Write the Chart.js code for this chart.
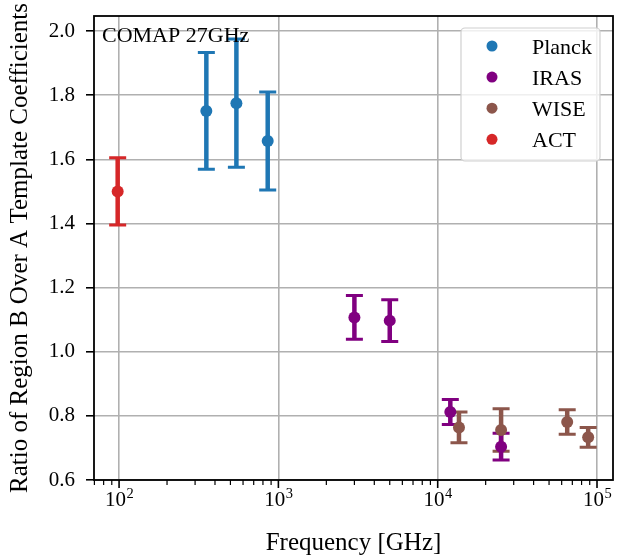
<!DOCTYPE html>
<html><head><meta charset="utf-8">
<style>html,body{margin:0;padding:0;background:#fff;} #c{display:block;}</style>
<script src="https://cdn.jsdelivr.net/npm/chart.js@4.4.1/dist/chart.umd.min.js"></script>
</head><body>
<canvas id="c" width="633" height="560"></canvas>
<script>
// ---- data ----
const planckFreq = [353, 545, 857];
const planckRatio = [1.751, 1.775, 1.657];
const planckErr = [0.182, 0.200, 0.153];

const irasFreq = [3000, 5000, 12000, 25000];
const irasRatio = [1.107, 1.097, 0.812, 0.704];
const irasErr = [0.068, 0.065, 0.039, 0.042];

const wiseFreq = [13600, 25000, 65000, 88000];
const wiseRatio = [0.764, 0.756, 0.781, 0.733];
const wiseErr = [0.048, 0.066, 0.038, 0.031];

const actFreq = [98];
const actRatio = [1.50];
const actErr = [0.105];

const seriesNames = ['Planck', 'IRAS', 'WISE', 'ACT'];
const seriesColors = ['#1f77b4', '#800080', '#8c564b', '#d62728'];

const yTicks = [0.6, 0.8, 1.0, 1.2, 1.4, 1.6, 1.8, 2.0];
const xMajorTicks = [100, 1000, 10000, 100000];
const xMinorTicks = [70, 80, 90, 200, 300, 400, 500, 600, 700, 800, 900,
  2000, 3000, 4000, 5000, 6000, 7000, 8000, 9000,
  20000, 30000, 40000, 50000, 60000, 70000, 80000, 90000];

const annotationText = 'COMAP 27GHz';
const xTitle = 'Frequency [GHz]';
const yTitle = 'Ratio of Region B Over A Template Coefficients';

// ---- build ----
const SERIF = '"Liberation Serif", "Times New Roman", serif';
function pts(fx, fy, fe) { return fx.map((v, i) => ({x: v, y: fy[i], err: fe[i]})); }
const allSeries = [
  pts(planckFreq, planckRatio, planckErr),
  pts(irasFreq, irasRatio, irasErr),
  pts(wiseFreq, wiseRatio, wiseErr),
  pts(actFreq, actRatio, actErr)
];

const errorBars = {
  id: 'errorBars',
  beforeDatasetsDraw(chart) {
    const {ctx, scales: {x, y}} = chart;
    ctx.save();
    for (let i = chart.data.datasets.length - 1; i >= 0; i--) {
      const ds = chart.data.datasets[i];
      ctx.strokeStyle = ds.backgroundColor;
      ds.data.forEach(p => {
        const px = x.getPixelForValue(p.x);
        const y1 = y.getPixelForValue(p.y + p.err);
        const y2 = y.getPixelForValue(p.y - p.err);
        ctx.lineWidth = 4.5;
        ctx.beginPath(); ctx.moveTo(px, y1); ctx.lineTo(px, y2); ctx.stroke();
        ctx.lineWidth = 3;
        ctx.beginPath();
        ctx.moveTo(px - 8.5, y1); ctx.lineTo(px + 8.5, y1);
        ctx.moveTo(px - 8.5, y2); ctx.lineTo(px + 8.5, y2);
        ctx.stroke();
      });
    }
    ctx.restore();
  }
};

const decorations = {
  id: 'decorations',
  afterDraw(chart) {
    const {ctx, chartArea: a, scales: {x}} = chart;
    ctx.save();
    // frame
    ctx.strokeStyle = '#000';
    ctx.lineWidth = 1.8;
    ctx.strokeRect(a.left, a.top, a.right - a.left, a.bottom - a.top);
    // x ticks
    ctx.lineWidth = 1.6;
    xMajorTicks.forEach(v => {
      const px = x.getPixelForValue(v);
      ctx.beginPath(); ctx.moveTo(px, a.bottom); ctx.lineTo(px, a.bottom + 8); ctx.stroke();
    });
    ctx.lineWidth = 1.2;
    xMinorTicks.forEach(v => {
      const px = x.getPixelForValue(v);
      if (px < a.left || px > a.right) return;
      ctx.beginPath(); ctx.moveTo(px, a.bottom); ctx.lineTo(px, a.bottom + 5); ctx.stroke();
    });
    // x tick labels 10^n
    ctx.fillStyle = '#000';
    ctx.textBaseline = 'alphabetic';
    ctx.textAlign = 'left';
    xMajorTicks.forEach(v => {
      const px = x.getPixelForValue(v);
      const e = String(Math.round(Math.log10(v)));
      ctx.font = '21px ' + SERIF;
      const wb = ctx.measureText('10').width;
      ctx.font = '14.5px ' + SERIF;
      const we = ctx.measureText(e).width;
      const sx = px - (wb + we) / 2;
      ctx.font = '21px ' + SERIF;
      ctx.fillText('10', sx, a.bottom + 26);
      ctx.font = '14.5px ' + SERIF;
      ctx.fillText(e, sx + wb + 0.5, a.bottom + 18);
    });
    // annotation
    ctx.font = '22px ' + SERIF;
    ctx.fillText(annotationText, a.left + 8, a.top + 26);
    // legend
    const lx = a.right - 152, ly = a.top + 12, lw = 139, lh = 133;
    ctx.beginPath();
    ctx.roundRect(lx, ly, lw, lh, 4);
    ctx.fillStyle = 'rgba(255,255,255,0.8)';
    ctx.fill();
    ctx.strokeStyle = '#d0d0d0';
    ctx.lineWidth = 1.2;
    ctx.stroke();
    ctx.textBaseline = 'alphabetic';
    seriesNames.forEach((n, i) => {
      const ry = ly + 18 + i * 31.1;
      ctx.fillStyle = seriesColors[i];
      ctx.beginPath(); ctx.arc(lx + 31, ry, 5.5, 0, Math.PI * 2); ctx.fill();
      ctx.fillStyle = '#000';
      ctx.font = '22px ' + SERIF;
      ctx.fillText(n, lx + 71, ry + 7.5);
    });
    ctx.restore();
  }
};

new Chart(document.getElementById('c'), {
  type: 'scatter',
  data: {
    datasets: allSeries.map((d, i) => ({
      label: seriesNames[i],
      data: d,
      backgroundColor: seriesColors[i],
      borderColor: seriesColors[i],
      borderWidth: 0,
      pointRadius: 6,
      pointHoverRadius: 6
    }))
  },
  options: {
    responsive: false,
    animation: false,
    devicePixelRatio: 1,
    layout: {padding: {top: 16, right: 20, left: 0, bottom: 0}},
    plugins: {legend: {display: false}, tooltip: {enabled: false}},
    scales: {
      x: {
        type: 'logarithmic',
        min: 69.6, max: 126000,
        afterBuildTicks: s => { s.ticks = xMajorTicks.map(v => ({value: v, major: true})); },
        afterFit: s => { s.height = 80; s.paddingLeft = 0; s.paddingRight = 0; },
        ticks: {callback: () => '', autoSkip: false, maxRotation: 0},
        grid: {color: '#b0b0b0', lineWidth: 1.6, drawTicks: false},
        border: {display: false},
        title: {display: true, text: xTitle, color: '#000',
          font: {family: SERIF, size: 25}, padding: {top: 0, bottom: 2}}
      },
      y: {
        min: 0.6, max: 2.047,
        afterBuildTicks: s => { s.ticks = yTicks.map(v => ({value: v})); },
        afterFit: s => { s.width = 94; s.paddingTop = 0; s.paddingBottom = 0; },
        ticks: {callback: v => Number(v).toFixed(1), color: '#000',
          font: {family: SERIF, size: 21}, padding: 11},
        grid: {color: '#b0b0b0', lineWidth: 1.6, drawTicks: true, tickLength: 8,
          tickColor: '#000', tickWidth: 1.6},
        border: {display: false},
        title: {display: true, text: yTitle, color: '#000',
          font: {family: SERIF, size: 25}, padding: {top: 5.6, bottom: 0}}
      }
    }
  },
  plugins: [errorBars, decorations]
});
</script>
</body></html>
